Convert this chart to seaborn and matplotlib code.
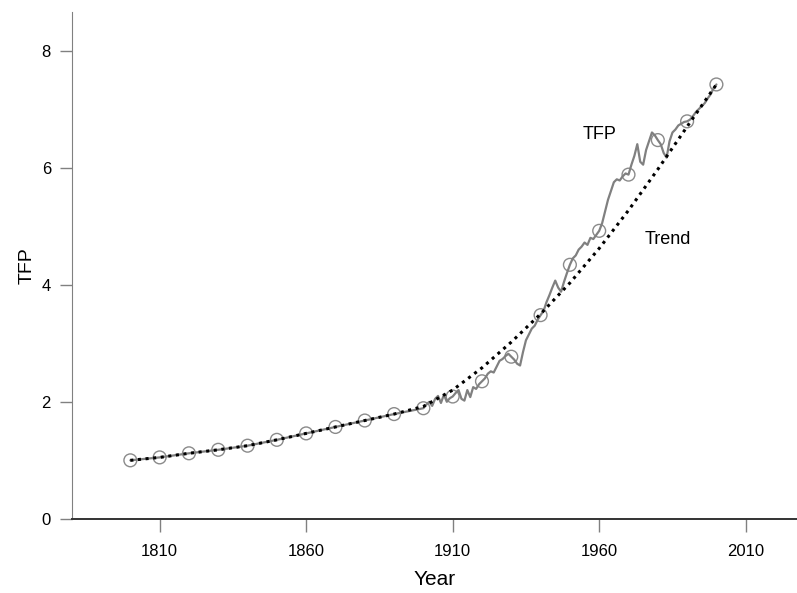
import matplotlib
matplotlib.use("Agg")
import matplotlib.pyplot as plt
import pandas as pd
import seaborn as sns
import numpy as np

# decadal TFP 1800-1890 (smooth part), then annual 1900-2000
early_years = [1800, 1810, 1820, 1830, 1840, 1850, 1860, 1870, 1880, 1890]
early_tfp = [1.00, 1.05, 1.12, 1.18, 1.25, 1.35, 1.46, 1.57, 1.68, 1.79]

annual_years = list(range(1900, 2001))
annual_tfp = [
    1.89, 1.95, 2.00, 1.93, 2.05, 2.10, 1.98, 2.12, 2.00, 2.06,  # 1900s
    2.09, 2.15, 2.20, 2.05, 2.02, 2.20, 2.08, 2.25, 2.22, 2.30,  # 1910s
    2.35, 2.40, 2.48, 2.52, 2.50, 2.60, 2.70, 2.73, 2.78, 2.82,  # 1920s
    2.77, 2.72, 2.65, 2.62, 2.85, 3.05, 3.15, 3.25, 3.30, 3.40,  # 1930s
    3.48, 3.55, 3.70, 3.82, 3.95, 4.07, 3.95, 3.88, 4.05, 4.20,  # 1940s
    4.34, 4.45, 4.50, 4.60, 4.65, 4.72, 4.68, 4.80, 4.78, 4.85,  # 1950s
    4.92, 5.05, 5.25, 5.45, 5.60, 5.75, 5.80, 5.78, 5.85, 5.90,  # 1960s
    5.88, 6.05, 6.20, 6.40, 6.10, 6.05, 6.30, 6.45, 6.60, 6.55,  # 1970s
    6.47, 6.40, 6.25, 6.17, 6.45, 6.60, 6.65, 6.72, 6.75, 6.78,  # 1980s
    6.79, 6.82, 6.88, 6.95, 7.00, 7.05, 7.10, 7.18, 7.25, 7.35,  # 1990s
    7.42,
]

trend_years = [1800, 1810, 1820, 1830, 1840, 1850, 1860, 1870, 1880, 1890, 1900,
               1910, 1920, 1930, 1940, 1950, 1960, 1970, 1980, 1990, 2000]
trend_vals = [1.00, 1.05, 1.12, 1.18, 1.25, 1.35, 1.46, 1.57, 1.68, 1.79, 1.92,
              2.20, 2.58, 3.02, 3.50, 4.03, 4.62, 5.27, 5.97, 6.70, 7.42]

tfp_df = pd.DataFrame({"year": early_years + annual_years,
                       "tfp": early_tfp + annual_tfp})
trend_df = pd.DataFrame({"year": trend_years, "tfp": trend_vals})
marks_df = tfp_df[tfp_df["year"] % 10 == 0]

sns.set_style("ticks")
plt.rcParams["font.family"] = ["Liberation Sans", "DejaVu Sans"]
plt.rcParams["text.color"] = "black"
plt.rcParams["axes.labelcolor"] = "black"
plt.rcParams["xtick.labelcolor"] = "black"
plt.rcParams["ytick.labelcolor"] = "black"

fig = plt.figure(figsize=(7.97, 5.93), dpi=100)
ax = fig.add_axes([0.09, 0.125, 0.91, 0.854])

sns.lineplot(data=tfp_df, x="year", y="tfp", ax=ax, color="#808080",
             linewidth=1.6, estimator=None, sort=False)
sns.scatterplot(data=marks_df, x="year", y="tfp", ax=ax, marker="o", s=85,
                facecolor="none", edgecolor="#8a8a8a", linewidth=1.0)
sns.lineplot(data=trend_df, x="year", y="tfp", ax=ax, color="black",
             linewidth=2.2, linestyle=(0, (1, 1.5)), estimator=None)

ax.text(1960, 6.56, "TFP", fontsize=13, ha="center", va="center")
ax.text(1983.5, 4.77, "Trend", fontsize=13, ha="center", va="center")

ax.set_xlim(1780, 2027.5)
ax.set_ylim(0, 8.65)
ax.set_xticks([1810, 1860, 1910, 1960, 2010])
ax.set_yticks([0, 2, 4, 6, 8])
ax.set_xlabel("Year", fontsize=15, labelpad=8)
ax.set_ylabel("TFP", fontsize=14, labelpad=4)
ax.tick_params(axis="both", labelsize=12, length=9, width=1, color="#808080")
ax.tick_params(axis="x", pad=9)
ax.tick_params(axis="y", pad=6)

sns.despine(ax=ax)
ax.spines["left"].set_color("#808080")
ax.spines["bottom"].set_color("#333333")
ax.spines["bottom"].set_linewidth(1.4)

fig.savefig("out.png", dpi=100)
